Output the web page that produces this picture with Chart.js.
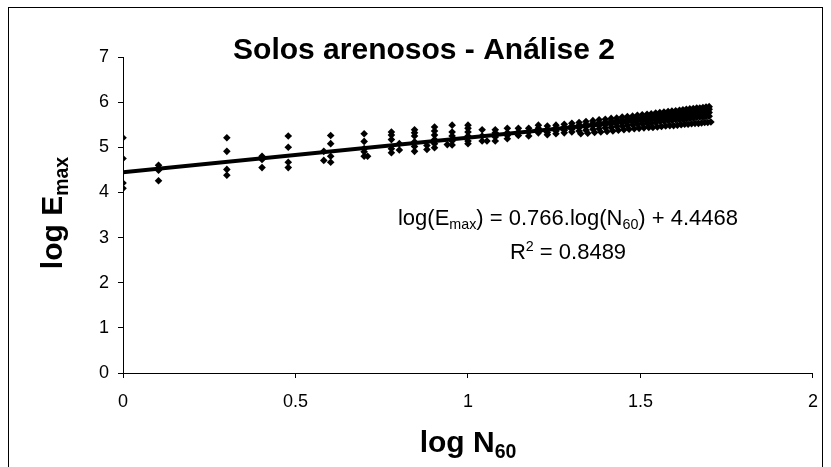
<!DOCTYPE html>
<html>
<head>
<meta charset="utf-8">
<script src="https://cdn.jsdelivr.net/npm/chart.js@4"></script>
<style>
    html, body { margin: 0; padding: 0; background: #fff; }
    #wrap { position: relative; width: 831px; height: 467px; }
</style>
</head>
<body>
<div id="wrap"><canvas id="chart" width="831" height="467"></canvas></div>
<script>
const FONT = '"Liberation Sans", Arial, sans-serif';

// x positions (log N60) of the main point columns and their log Emax values
const colX = [0, 0.103, 0.301, 0.403, 0.479, 0.602, 0.699, 0.778, 0.845, 0.903, 0.954, 1.0,
    1.041, 1.079, 1.114, 1.146, 1.176, 1.204, 1.230, 1.255, 1.279, 1.301,
    1.322, 1.342, 1.362, 1.380, 1.398, 1.415, 1.431, 1.447, 1.462, 1.477,
    1.491, 1.505, 1.519, 1.531, 1.544, 1.556, 1.568, 1.580, 1.591, 1.602,
    1.613, 1.623, 1.633, 1.643, 1.653, 1.663, 1.672, 1.681, 1.690, 1.699];
const colY = [
    [5.21, 4.75, 4.21, 4.09],
    [4.60, 4.49, 4.26],
    [5.21, 4.91, 4.51, 4.38],
    [4.80, 4.73, 4.55],
    [5.25, 5.00, 4.67, 4.55],
    [5.26, 5.08, 4.80, 4.67],
    [5.30, 5.13, 4.97, 4.90, 4.80],
    [5.34, 5.27, 5.17, 4.97, 4.88],
    [5.39, 5.32, 5.25, 5.12, 5.02, 4.91],
    [5.45, 5.36, 5.27, 5.17, 5.08, 4.99],
    [5.49, 5.34, 5.25, 5.14, 5.05],
    [5.49, 5.42, 5.34, 5.25, 5.14, 5.08],
    [5.39, 5.25, 5.14],
    [5.39, 5.32, 5.23, 5.14],
    [5.42, 5.32, 5.26, 5.19],
    [5.42, 5.34, 5.26],
    [5.42, 5.34, 5.25],
    [5.49, 5.42, 5.32],
    [5.47, 5.40, 5.33, 5.28],
    [5.49, 5.43, 5.36, 5.30],
    [5.51, 5.45, 5.38, 5.32],
    [5.53, 5.47, 5.40, 5.34],
    [5.55, 5.49, 5.43, 5.36],
    [5.57, 5.51, 5.45, 5.38],
    [5.59, 5.53, 5.47, 5.40],
    [5.61, 5.55, 5.48, 5.41],
    [5.62, 5.56, 5.50, 5.43],
    [5.64, 5.58, 5.51, 5.44],
    [5.65, 5.59, 5.53, 5.46],
    [5.67, 5.61, 5.54, 5.47],
    [5.68, 5.62, 5.56, 5.48],
    [5.69, 5.63, 5.57, 5.50],
    [5.71, 5.65, 5.58, 5.51],
    [5.72, 5.66, 5.59, 5.52],
    [5.73, 5.67, 5.61, 5.53],
    [5.74, 5.68, 5.62, 5.54],
    [5.76, 5.69, 5.63, 5.55],
    [5.77, 5.71, 5.64, 5.57],
    [5.78, 5.72, 5.65, 5.58],
    [5.79, 5.73, 5.66, 5.59],
    [5.80, 5.74, 5.67, 5.60],
    [5.81, 5.75, 5.68, 5.61],
    [5.82, 5.76, 5.69, 5.61],
    [5.83, 5.77, 5.70, 5.62],
    [5.84, 5.78, 5.71, 5.63],
    [5.85, 5.79, 5.72, 5.64],
    [5.86, 5.80, 5.73, 5.65],
    [5.87, 5.81, 5.74, 5.66],
    [5.87, 5.81, 5.74, 5.67],
    [5.88, 5.82, 5.75, 5.67],
    [5.89, 5.83, 5.76, 5.68],
    [5.90, 5.84, 5.77, 5.69]
];

// the lower, slightly shifted row of points
const lowX = [0.582, 0.582, 0.709, 0.801, 0.801, 0.881, 0.881, 0.940, 1.055,
    1.327, 1.347, 1.367, 1.385, 1.403, 1.420, 1.436, 1.452, 1.467, 1.482,
    1.496, 1.510, 1.524, 1.536, 1.549, 1.561, 1.573, 1.585, 1.596, 1.607,
    1.618, 1.628, 1.638, 1.648, 1.658, 1.668, 1.677, 1.686, 1.695, 1.704];
const lowY = [4.91, 4.71, 4.80, 5.08, 4.94, 5.04, 4.95, 5.06, 5.14,
    5.30, 5.31, 5.33, 5.34, 5.35, 5.36, 5.38, 5.39, 5.40, 5.41,
    5.42, 5.43, 5.44, 5.44, 5.45, 5.46, 5.47, 5.48, 5.48, 5.49,
    5.50, 5.51, 5.51, 5.52, 5.53, 5.53, 5.54, 5.55, 5.55, 5.56];

// trendline: log(Emax) = 0.766.log(N60) + 4.4468
const trendSlope = 0.766;
const trendIntercept = 4.4468;
const trendX = [0, 1.699];

const xTicks = [0, 0.5, 1, 1.5, 2];
const yTicks = [0, 1, 2, 3, 4, 5, 6, 7];

const points = [];
colX.forEach((x, i) => colY[i].forEach(y => points.push({ x, y })));
lowX.forEach((x, i) => points.push({ x, y: lowY[i] }));
const trend = trendX.map(x => ({ x, y: trendSlope * x + trendIntercept }));

function richText(ctx, parts, x, y, size, bold, align) {
    const w = bold ? 'bold ' : '';
    let total = 0;
    parts.forEach(p => {
        p.size = p[1] ? size * 0.65 : size;
        ctx.font = `${w}${p.size}px ${FONT}`;
        p.w = ctx.measureText(p[0]).width;
        total += p.w;
    });
    let cx = align === 'center' ? x - total / 2 : x;
    ctx.textAlign = 'left';
    ctx.textBaseline = 'alphabetic';
    parts.forEach(p => {
        ctx.font = `${w}${p.size}px ${FONT}`;
        let dy = 0;
        if (p[1] === 'sub') dy = size * 0.2;
        if (p[1] === 'sup') dy = -size * 0.38;
        ctx.fillText(p[0], cx, y + dy);
        cx += p.w;
    });
}

const decor = {
    id: 'decor',
    afterDraw(chart) {
        const ctx = chart.ctx;
        ctx.save();
        ctx.strokeStyle = '#000';
        ctx.lineWidth = 1;
        ctx.strokeRect(8.5, 7.5, 814, 520);
        ctx.fillStyle = '#000';

        richText(ctx, [['Solos arenosos - Análise 2']], 424, 59, 30, true, 'center');
        richText(ctx, [['log N'], ['60', 'sub']], 468, 452, 30, true, 'center');

        ctx.save();
        ctx.translate(62, 213);
        ctx.rotate(-Math.PI / 2);
        richText(ctx, [['log E'], ['max', 'sub']], 0, 0, 30, true, 'center');
        ctx.restore();

        richText(ctx, [['log(E'], ['max', 'sub'], [') = 0.766.log(N'], ['60', 'sub'], [') + 4.4468']], 568, 225, 22, false, 'center');
        richText(ctx, [['R'], ['2', 'sup'], [' = 0.8489']], 568, 259, 22, false, 'center');
        ctx.restore();
    }
};

const axisStyle = {
    grid: { drawOnChartArea: false, drawTicks: true, tickLength: 5, color: '#000', lineWidth: 1 },
    border: { display: true, color: '#000', width: 1 }
};

new Chart(document.getElementById('chart').getContext('2d'), {
    data: {
        datasets: [
            {
                type: 'line',
                data: trend,
                borderColor: '#000',
                borderWidth: 4,
                pointRadius: 0,
                fill: false,
                order: 0
            },
            {
                type: 'scatter',
                data: points,
                pointStyle: 'rectRot',
                pointRadius: 3.8,
                backgroundColor: '#000',
                borderColor: '#000',
                borderWidth: 0,
                order: 1
            }
        ]
    },
    options: {
        responsive: false,
        animation: false,
        devicePixelRatio: 1,
        layout: { padding: { top: 57, right: 17, left: 0, bottom: 0 } },
        plugins: { legend: { display: false }, tooltip: { enabled: false }, title: { display: false } },
        scales: {
            x: {
                type: 'linear',
                min: 0,
                max: 2,
                afterFit: s => { s.height = 94; },
                afterBuildTicks: s => { s.ticks = xTicks.map(v => ({ value: v })); },
                ticks: { color: '#000', font: { family: FONT, size: 18 }, padding: 13, callback: v => String(v) },
                ...axisStyle
            },
            y: {
                type: 'linear',
                min: 0,
                max: 7,
                afterFit: s => { s.width = 123; },
                afterBuildTicks: s => { s.ticks = yTicks.map(v => ({ value: v })); },
                ticks: { color: '#000', font: { family: FONT, size: 18 }, padding: 9, callback: v => String(v) },
                ...axisStyle
            }
        }
    },
    plugins: [decor]
});
</script>
</body>
</html>
